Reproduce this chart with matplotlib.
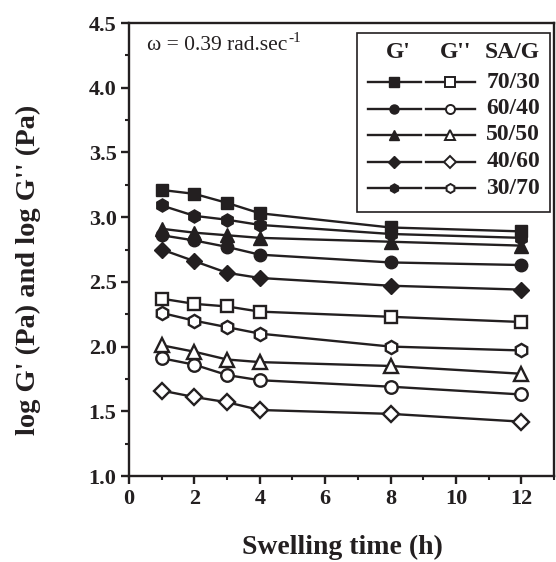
import matplotlib
matplotlib.use("Agg")
import matplotlib.pyplot as plt
from matplotlib.patches import Rectangle
from matplotlib.ticker import MultipleLocator, FormatStrFormatter

plt.rcParams["font.family"] = ["Liberation Serif", "DejaVu Serif"]

# Swelling time (h)
time_h = [1, 2, 3, 4, 8, 12]

# SA/G blend ratios and marker shapes
ratios = ["70/30", "60/40", "50/50", "40/60", "30/70"]
markers = ["s", "o", "^", "D", "h"]
marker_sizes = [8, 9, 10, 8.5, 9.5]

# log G' (Pa), storage modulus
g_storage = {
    "70/30": [3.21, 3.18, 3.11, 3.03, 2.92, 2.89],
    "60/40": [2.86, 2.82, 2.77, 2.71, 2.65, 2.63],
    "50/50": [2.91, 2.88, 2.86, 2.84, 2.81, 2.78],
    "40/60": [2.75, 2.66, 2.57, 2.53, 2.47, 2.44],
    "30/70": [3.09, 3.01, 2.98, 2.94, 2.87, 2.84],
}

# log G'' (Pa), loss modulus
g_loss = {
    "70/30": [2.37, 2.33, 2.31, 2.27, 2.23, 2.19],
    "60/40": [1.91, 1.86, 1.78, 1.74, 1.69, 1.63],
    "50/50": [2.01, 1.96, 1.90, 1.88, 1.85, 1.79],
    "40/60": [1.66, 1.61, 1.57, 1.51, 1.48, 1.42],
    "30/70": [2.26, 2.20, 2.15, 2.10, 2.00, 1.97],
}

W, H = 556, 562
fig = plt.figure(figsize=(W / 100, H / 100), dpi=100)
ax_l, ax_r, ax_t, ax_b = 129, 554, 23, 476
ax = fig.add_axes([ax_l / W, 1 - ax_b / H, (ax_r - ax_l) / W, (ax_b - ax_t) / H])

ink = "#231f20"
lw = 1.7

for r, m, ms in zip(ratios, markers, marker_sizes):
    ax.plot(time_h, g_storage[r], color=ink, lw=lw, marker=m, ms=ms,
            mfc=ink, mec=ink, zorder=3)
    ax.plot(time_h, g_loss[r], color=ink, lw=lw, marker=m, ms=ms,
            mfc="white", mec=ink, mew=1.7, zorder=3)

ax.set_xlim(0, 13)
ax.set_ylim(1.0, 4.5)
ax.xaxis.set_major_locator(MultipleLocator(2))
ax.xaxis.set_minor_locator(MultipleLocator(1))
ax.yaxis.set_major_locator(MultipleLocator(0.5))
ax.yaxis.set_minor_locator(MultipleLocator(0.25))
ax.yaxis.set_major_formatter(FormatStrFormatter("%.1f"))

for s in ax.spines.values():
    s.set_linewidth(1.7)
    s.set_color(ink)

ax.tick_params(which="major", direction="out", length=6, width=1.7,
               colors=ink, labelsize=16, pad=3)
ax.tick_params(which="minor", direction="out", length=3, width=1.5, colors=ink)
for lab in ax.get_xticklabels() + ax.get_yticklabels():
    lab.set_fontweight("bold")

fig.text(342 / W, 1 - 547 / H, "Swelling time (h)", fontsize=20,
         fontweight="bold", color=ink, ha="center", va="center")
fig.text(28 / W, 1 - 270 / H, "log G' (Pa) and log G'' (Pa)", fontsize=20.5,
         fontweight="bold", color=ink, ha="center", va="center",
         rotation=90)


def fx(px):
    return (px - ax_l) / (ax_r - ax_l)


def fy(py):
    return (ax_b - py) / (ax_b - ax_t)


tr = ax.transAxes
omega = ax.text(fx(147), fy(46), "ω = 0.39 rad.sec", transform=tr,
                fontsize=15.5, color=ink, va="center", ha="left")
ax.annotate("-1", xy=(1, 1), xycoords=omega, xytext=(1, -6),
            textcoords="offset points", fontsize=11, color=ink,
            ha="left", va="bottom")

# Legend box drawn in axes coordinates
ax.add_patch(Rectangle((fx(357), fy(212)), fx(550) - fx(357), fy(33) - fy(212),
                       transform=tr, fill=False, ec=ink, lw=1.2, zorder=5))
hy = fy(52)
leg_fs = 17
ax.text(fx(398), hy, "G'", transform=tr, fontsize=leg_fs, fontweight="bold",
        color=ink, ha="center", va="center", zorder=6)
ax.text(fx(456), hy, "G''", transform=tr, fontsize=leg_fs, fontweight="bold",
        color=ink, ha="center", va="center", zorder=6)
ax.text(fx(540), hy, "SA/G", transform=tr, fontsize=leg_fs, fontweight="bold",
        color=ink, ha="right", va="center", zorder=6)

row_y = [82, 108.5, 135, 161.5, 188]
for r, m, py in zip(ratios, markers, row_y):
    yy = fy(py)
    ax.plot([fx(368), fx(421)], [yy, yy], color=ink, lw=lw, transform=tr,
            clip_on=False, zorder=6)
    ax.plot([fx(426), fx(475)], [yy, yy], color=ink, lw=lw, transform=tr,
            clip_on=False, zorder=6)
    ax.plot([fx(394)], [yy], marker=m, ms=6.5, mfc=ink, mec=ink, transform=tr,
            clip_on=False, zorder=7)
    ax.plot([fx(450)], [yy], marker=m, ms=6.5, mfc="white", mec=ink, mew=1.4,
            transform=tr, clip_on=False, zorder=7)
    ax.text(fx(540), yy, r, transform=tr, fontsize=leg_fs, fontweight="bold",
            color=ink, ha="right", va="center", zorder=6)

fig.savefig("out.png", dpi=100)
